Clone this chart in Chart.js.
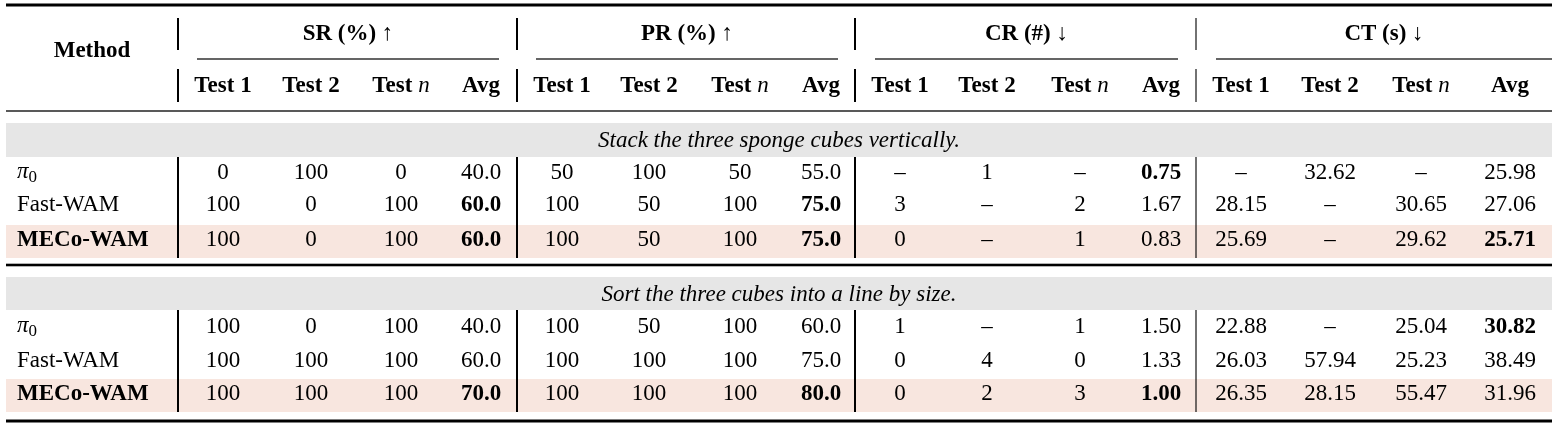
<!DOCTYPE html>
<html>
<head>
<meta charset="utf-8">
<script src="https://cdn.jsdelivr.net/npm/chart.js@4"></script>
<style>
  body { margin: 0; background: #fff; }
  canvas { display: block; }
</style>
</head>
<body>
<canvas id="tbl" width="1552" height="426"></canvas>
<script>
// table contents
const groups = ['SR (%) \u2191', 'PR (%) \u2191', 'CR (#) \u2193', 'CT (s) \u2193'];
const subCols = ['Test 1', 'Test 2', 'Test n', 'Avg'];
const tasks = ['Stack the three sponge cubes vertically.', 'Sort the three cubes into a line by size.'];
const methods = ['pi0', 'Fast-WAM', 'MECo-WAM'];

const task1Pi0  = ['0', '100', '0', '40.0', '50', '100', '50', '55.0', '–', '1', '–', '0.75', '–', '32.62', '–', '25.98'];
const task1Fast = ['100', '0', '100', '60.0', '100', '50', '100', '75.0', '3', '–', '2', '1.67', '28.15', '–', '30.65', '27.06'];
const task1Meco = ['100', '0', '100', '60.0', '100', '50', '100', '75.0', '0', '–', '1', '0.83', '25.69', '–', '29.62', '25.71'];
const task2Pi0  = ['100', '0', '100', '40.0', '100', '50', '100', '60.0', '1', '–', '1', '1.50', '22.88', '–', '25.04', '30.82'];
const task2Fast = ['100', '100', '100', '60.0', '100', '100', '100', '75.0', '0', '4', '0', '1.33', '26.03', '57.94', '25.23', '38.49'];
const task2Meco = ['100', '100', '100', '70.0', '100', '100', '100', '80.0', '0', '2', '3', '1.00', '26.35', '28.15', '55.47', '31.96'];

// bold cells as [task, methodIdx, col]
const boldCells = [[0,0,11],[0,1,3],[0,1,7],[0,2,3],[0,2,7],[0,2,15],
                   [1,0,15],[1,2,3],[1,2,7],[1,2,11]];

const taskRows = [[task1Pi0, task1Fast, task1Meco], [task2Pi0, task2Fast, task2Meco]];

// layout
const colX = [223,311,401,481, 562,649,740,821, 900,987,1080,1161, 1241,1330,1421,1510];
const sepX = [178, 517, 855, 1196];
const groupSpan = [[197,499],[536,838],[875,1178],[1216,1552]];
const rowY = [[173,205,240],[327,361,394]];
const bandY = [[123,157],[277,310]];
const pinkY = [[225,258],[379,412]];
const FS = 23;
const serif = '"Liberation Serif", "Times New Roman", serif';

const tablePlugin = {
  id: 'tablePlugin',
  afterDraw(chart) {
    const c = chart.ctx, X = v => chart.scales.x.getPixelForValue(v), Y = v => chart.scales.y.getPixelForValue(v);
    c.save();
    c.textBaseline = 'middle';
    function rule(y, w, x0) { c.fillStyle = '#000'; c.fillRect(X(x0 || 6), Y(y) - w / 2, X(1552) - X(x0 || 6), w); }
    function vline(x, y0, y1, w) { c.fillStyle = '#000'; c.fillRect(X(x) - w / 2, Y(y0), w, Y(y1) - Y(y0)); }
    function txt(s, x, y, bold, italic, align) {
      c.font = (italic ? 'italic ' : '') + (bold ? 'bold ' : '') + FS + 'px ' + serif;
      c.textAlign = align || 'center';
      c.fillStyle = '#000';
      c.fillText(s, X(x), Y(y));
    }
    function testN(x, y) {
      c.font = 'bold ' + FS + 'px ' + serif;
      const a = c.measureText('Test ').width;
      c.font = 'italic ' + FS + 'px ' + serif;
      const b = c.measureText('n').width;
      const left = X(x) - (a + b) / 2;
      c.textAlign = 'left'; c.fillStyle = '#000';
      c.font = 'bold ' + FS + 'px ' + serif; c.fillText('Test ', left, Y(y));
      c.font = 'italic ' + FS + 'px ' + serif; c.fillText('n', left + a, Y(y));
    }
    function pi0(x, y) {
      c.textAlign = 'left'; c.fillStyle = '#000';
      c.font = 'italic ' + FS + 'px ' + serif; c.fillText('\u03c0', X(x), Y(y) - 1);
      const w = c.measureText('\u03c0').width;
      c.font = (FS - 6) + 'px ' + serif; c.fillText('0', X(x) + w, Y(y) + 5);
    }

    // bands
    tasks.forEach((t, k) => {
      c.fillStyle = '#e6e6e6';
      c.fillRect(X(6), Y(bandY[k][0]), X(1552) - X(6), Y(bandY[k][1]) - Y(bandY[k][0]));
      c.fillStyle = '#f8e6df';
      c.fillRect(X(6), Y(pinkY[k][0]), X(1552) - X(6), Y(pinkY[k][1]) - Y(pinkY[k][0]));
      txt(t, 779, (bandY[k][0] + bandY[k][1]) / 2 + 1, false, true);
    });

    // rules
    rule(5, 3); rule(111, 1.3); rule(265, 2.6); rule(421, 3);
    groupSpan.forEach(g => { c.fillStyle = '#000'; c.fillRect(X(g[0]), Y(59) - 0.6, X(g[1]) - X(g[0]), 1.2); });

    // header
    txt('Method', 92, 51, true);
    groups.forEach((g, i) => txt(g, (groupSpan[i][0] + groupSpan[i][1]) / 2, 34, true));
    colX.forEach((x, i) => {
      const s = subCols[i % 4];
      if (s === 'Test n') testN(x, 86); else txt(s, x, 86, true);
    });
    sepX.forEach((x, i) => {
      const w = i === 3 ? 1.1 : 2;
      vline(x, 18, 50, w); vline(x, 69, 102, w);
      vline(x, 157, 258, w); vline(x, 310, 412, w);
    });

    // data rows
    taskRows.forEach((rows, k) => {
      rows.forEach((vals, m) => {
        const y = rowY[k][m];
        if (methods[m] === 'pi0') pi0(17, y);
        else txt(methods[m], 17, y, m === 2, false, 'left');
        vals.forEach((v, j) => {
          const b = boldCells.some(d => d[0] === k && d[1] === m && d[2] === j);
          txt(v, colX[j], y, b);
        });
      });
    });
    c.restore();
  }
};

new Chart(document.getElementById('tbl').getContext('2d'), {
  type: 'scatter',
  data: { datasets: [{ data: [], pointRadius: 0 }] },
  options: {
    responsive: false,
    animation: false,
    devicePixelRatio: 1,
    layout: { padding: 0 },
    plugins: { legend: { display: false }, tooltip: { enabled: false } },
    scales: {
      x: { type: 'linear', min: 0, max: 1552, display: false },
      y: { type: 'linear', min: 0, max: 426, reverse: true, display: false }
    }
  },
  plugins: [tablePlugin]
});
</script>
</body>
</html>
